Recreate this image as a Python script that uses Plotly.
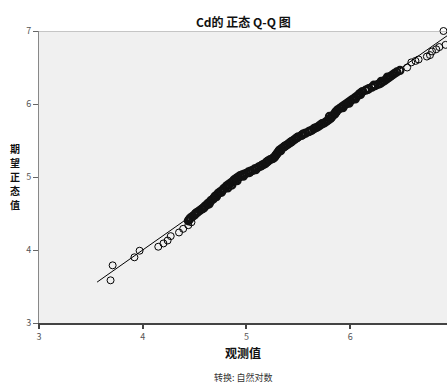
import plotly.graph_objects as go

obs_low = [3.69, 3.71, 3.92, 3.97, 4.15, 4.20, 4.24, 4.27, 4.35, 4.39, 4.44, 4.47]
exp_low = [3.585, 3.79, 3.90, 3.99, 4.045, 4.09, 4.13, 4.19, 4.24, 4.29, 4.34, 4.38]

obs_mid = [4.44, 4.45, 4.46, 4.48, 4.50, 4.51, 4.53, 4.55, 4.57, 4.59, 4.60, 4.62, 4.63, 4.65,
           4.66, 4.68, 4.69, 4.70, 4.72, 4.73, 4.75, 4.77, 4.78, 4.80, 4.81, 4.83, 4.85, 4.87,
           4.88, 4.90, 4.92, 4.94, 4.96, 4.98, 5.00, 5.02, 5.04, 5.06, 5.08, 5.10, 5.12, 5.14,
           5.16, 5.18, 5.19, 5.21, 5.23, 5.25, 5.27, 5.28, 5.29, 5.30, 5.31, 5.32, 5.34, 5.36,
           5.38, 5.40, 5.42, 5.44, 5.46, 5.48, 5.50, 5.53, 5.55, 5.57, 5.60, 5.63, 5.65, 5.68,
           5.70, 5.72, 5.75, 5.77, 5.79, 5.81, 5.82, 5.83, 5.85, 5.86, 5.87, 5.88, 5.90, 5.92,
           5.94, 5.96, 5.98, 6.00, 6.02, 6.04, 6.06, 6.08, 6.09, 6.11, 6.12, 6.15, 6.18, 6.21,
           6.24, 6.27, 6.29, 6.31, 6.33, 6.35, 6.37, 6.39, 6.41, 6.43, 6.45, 6.48]
exp_mid = [4.40, 4.42, 4.44, 4.46, 4.48, 4.50, 4.52, 4.54, 4.56, 4.58, 4.60, 4.62, 4.64, 4.66,
           4.68, 4.70, 4.72, 4.74, 4.76, 4.78, 4.80, 4.82, 4.84, 4.86, 4.88, 4.90, 4.92, 4.94,
           4.96, 4.98, 5.00, 5.02, 5.03, 5.04, 5.05, 5.07, 5.08, 5.09, 5.11, 5.12, 5.14, 5.15,
           5.17, 5.18, 5.20, 5.22, 5.24, 5.25, 5.27, 5.29, 5.31, 5.33, 5.35, 5.37, 5.39, 5.41,
           5.43, 5.45, 5.47, 5.49, 5.51, 5.53, 5.55, 5.57, 5.59, 5.60, 5.62, 5.64, 5.66, 5.68,
           5.70, 5.72, 5.74, 5.76, 5.78, 5.80, 5.82, 5.84, 5.86, 5.88, 5.90, 5.92, 5.94, 5.96,
           5.98, 6.00, 6.02, 6.04, 6.06, 6.08, 6.10, 6.12, 6.14, 6.16, 6.17, 6.19, 6.21, 6.23,
           6.25, 6.27, 6.28, 6.30, 6.32, 6.34, 6.36, 6.38, 6.40, 6.42, 6.44, 6.46]

# extra points read inside the thick, dense band
obs_band = [4.52, 4.58, 4.64, 4.71, 4.76, 4.82, 4.86, 4.91, 4.97, 5.03, 5.09, 5.15, 5.20,
            5.26, 5.33, 5.37, 5.43, 5.49, 5.54, 5.61, 5.66, 5.73, 5.80, 5.86, 5.93, 5.99,
            6.05, 6.10, 6.17, 6.23, 6.30, 6.36]
exp_band = [4.51, 4.57, 4.63, 4.73, 4.79, 4.85, 4.89, 4.95, 5.01, 5.06, 5.10, 5.16, 5.21,
            5.26, 5.36, 5.42, 5.48, 5.54, 5.58, 5.63, 5.67, 5.73, 5.83, 5.89, 5.95, 6.01,
            6.07, 6.13, 6.20, 6.26, 6.31, 6.37]

obs_high = [6.55, 6.59, 6.63, 6.66, 6.74, 6.77, 6.79, 6.83, 6.86, 6.92, 6.90]
exp_high = [6.50, 6.57, 6.59, 6.61, 6.65, 6.67, 6.72, 6.75, 6.78, 6.81, 7.00]

line_x = [3.56, 6.98]
line_y = [3.56, 6.98]

x_ticks = [3, 4, 5, 6, 7]
y_ticks = [3, 4, 5, 6, 7]

ytitle_chars = ["期", "望", "正", "态", "值"]
ytitle_px = [148, 162, 176, 190, 204]

FONT = "Noto Sans CJK SC"

fig = go.Figure()
fig.add_trace(go.Scatter(x=line_x, y=line_y, mode="lines",
                         line=dict(color="black", width=1), hoverinfo="skip"))
fig.add_trace(go.Scatter(x=obs_low + obs_high, y=exp_low + exp_high, mode="markers",
                         cliponaxis=False,
                         marker=dict(symbol="circle-open", size=7, color="black",
                                     line=dict(width=1, color="black"))))
fig.add_trace(go.Scatter(x=obs_mid + obs_band, y=exp_mid + exp_band, mode="markers",
                         cliponaxis=False,
                         marker=dict(symbol="circle-open", size=7, color="#111111",
                                     line=dict(width=2.2, color="#111111"))))

annotations = [
    dict(text="<b>Cd的 正态 Q-Q 图</b>", xref="paper", yref="paper", x=0.5, y=1,
         yshift=10, xanchor="center", yanchor="middle", showarrow=False,
         font=dict(family=FONT, size=12, color="#111111")),
    dict(text="<b>观测值</b>", xref="paper", yref="paper", x=0.5, y=0,
         yshift=-29, xanchor="center", yanchor="middle", showarrow=False,
         font=dict(family=FONT, size=12, color="#111111")),
    dict(text="转换: 自然对数", xref="paper", yref="paper", x=0.5, y=0,
         yshift=-54, xanchor="center", yanchor="middle", showarrow=False,
         font=dict(family=FONT, size=9, color="#333333")),
]
for ch, py in zip(ytitle_chars, ytitle_px):
    annotations.append(dict(text="<b>" + ch + "</b>", xref="paper", yref="paper",
                            x=0, xshift=-24, y=(323 - py) / 292,
                            xanchor="center", yanchor="middle", showarrow=False,
                            borderpad=0,
                            font=dict(family=FONT, size=10, color="#111111")))

fig.update_layout(
    width=447, height=385,
    margin=dict(l=39, r=0, t=31, b=62),
    paper_bgcolor="white", plot_bgcolor="#f0f0f0",
    showlegend=False,
    font=dict(family=FONT, color="#555555", size=9),
    xaxis=dict(range=[3, 6.934], tickvals=x_ticks, showgrid=False, zeroline=False,
               showline=True, linecolor="#444444", linewidth=2,
               ticks="outside", ticklen=4, tickwidth=2, tickcolor="#444444",
               tickfont=dict(size=9, color="#555555"), fixedrange=True),
    yaxis=dict(range=[3, 7], tickvals=y_ticks, showgrid=False, zeroline=False,
               showline=True, linecolor="#888888", linewidth=1,
               ticks="outside", ticklen=5, tickwidth=1, tickcolor="#666666",
               tickfont=dict(size=9, color="#555555"), fixedrange=True),
    shapes=[dict(type="line", xref="paper", yref="y", x0=0, x1=1, y0=7, y1=7,
                 line=dict(color="#999999", width=1))],
    annotations=annotations,
)

fig.write_html("out.html")
